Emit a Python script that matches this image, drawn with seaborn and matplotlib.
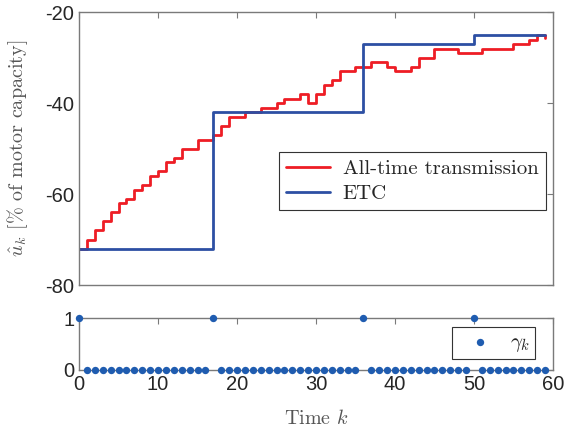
import numpy as np
import pandas as pd
import matplotlib
matplotlib.use('Agg')
import matplotlib.pyplot as plt
import seaborn as sns

# ===== podaci =====
k = list(range(60))
u_all = [-72, -70, -68, -66, -64, -62, -61, -59, -58, -56,
         -55, -53, -52, -50, -50, -48, -48, -47, -45, -43,
         -43, -42, -42, -41, -41, -40, -39, -39, -38, -40,
         -38, -36, -35, -33, -33, -32, -32, -31, -31, -32,
         -33, -33, -32, -30, -30, -28, -28, -28, -29, -29,
         -29, -28, -28, -28, -28, -27, -27, -26, -25, -25.6]
etc_k = [0, 17, 36, 50]
etc_val = [-72, -42, -27, -25]
gamma = [1 if i in etc_k else 0 for i in k]

# ETC drzi poslednju poslatu vrednost
u_etc = []
cur = etc_val[0]
for i in k:
    if i in etc_k:
        cur = etc_val[etc_k.index(i)]
    u_etc.append(cur)

df = pd.DataFrame({'k': k, 'all': u_all, 'etc': u_etc, 'gamma': gamma})

sns.set_style('white')
plt.rcParams['font.family'] = ['Liberation Sans', 'DejaVu Sans']
plt.rcParams['mathtext.fontset'] = 'cm'
plt.rcParams['axes.unicode_minus'] = False

RED = '#ee1d25'
BLUE = '#2d4fa3'
DOT = '#1f5cb0'
SPINE = '#7a7a7a'
TXT = '#262626'
serif = {'family': 'cmr10', 'size': 14.5}

fig = plt.figure(figsize=(5.66, 4.36), dpi=100)
ax1 = fig.add_axes([0.1396, 0.3463, 0.8374, 0.6255])
ax2 = fig.add_axes([0.1396, 0.1514, 0.8374, 0.1192])

# ===== gornji grafik =====
sns.lineplot(data=df, x='k', y='all', ax=ax1, color=RED, lw=2.0,
             drawstyle='steps-post', label='All-time transmission')
sns.lineplot(data=df, x='k', y='etc', ax=ax1, color=BLUE, lw=2.0,
             drawstyle='steps-post', label='ETC')
ax1.set_xlim(0, 60)
ax1.set_ylim(-80, -20)
ax1.set_yticks([-80, -60, -40, -20])
ax1.set_xticks(range(0, 61, 10))
ax1.set_xticklabels([])
ax1.set_xlabel('')
ax1.set_ylabel(r'$\hat{u}_k$ [% of motor capacity]', fontdict=serif, color='#555555')
ax1.yaxis.set_label_coords(-0.104, 0.5)
leg1 = ax1.legend(loc='upper right', bbox_to_anchor=(0.998, 0.51), fancybox=False,
                  framealpha=1, edgecolor='#333333', prop={'family': 'cmr10', 'size': 15},
                  handlelength=2.1, borderpad=0.35, labelspacing=0.3, handletextpad=0.6,
                  borderaxespad=0.3)
leg1.get_frame().set_linewidth(0.8)

# ===== donji grafik =====
sns.scatterplot(data=df, x='k', y='gamma', ax=ax2, color=DOT, s=28,
                edgecolor=DOT, linewidth=0, clip_on=False, zorder=5, label=r'$\gamma_k$')
ax2.set_xlim(0, 60)
ax2.set_ylim(0, 1)
ax2.set_yticks([0, 1])
ax2.set_xticks(range(0, 61, 10))
ax2.set_ylabel('')
ax2.set_xlabel(r'Time $k$', fontdict=serif, color='#555555', labelpad=11)
leg2 = ax2.legend(loc='upper right', bbox_to_anchor=(0.962, 0.83), fancybox=False,
                  framealpha=1, edgecolor='#333333', prop={'size': 15},
                  handlelength=2.2, handletextpad=0.3, borderpad=0.25, borderaxespad=0,
                  markerscale=1.0)
leg2.get_frame().set_linewidth(0.8)

for ax in (ax1, ax2):
    for sp in ax.spines.values():
        sp.set_color(SPINE)
        sp.set_linewidth(1.0)
        sp.set_visible(True)
    ax.tick_params(direction='in', top=True, right=True, length=4, width=0.8,
                   color=SPINE, labelsize=14.5, labelcolor=TXT)
    ax.grid(False)

plt.savefig('out.png', dpi=100)
